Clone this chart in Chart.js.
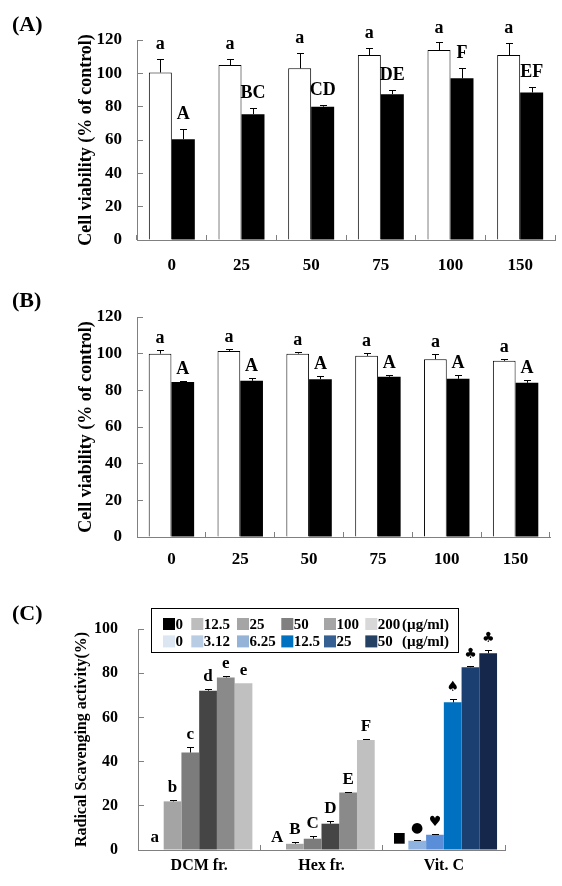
<!DOCTYPE html>
<html>
<head>
<meta charset="utf-8">
<script src="https://cdn.jsdelivr.net/npm/chart.js@4"></script>
<style>
    html, body { margin: 0; padding: 0; background: #fff; }
    #wrap { position: relative; width: 562px; height: 886px; }
    canvas { position: absolute; left: 0; }
</style>
</head>
<body>
<div id="wrap">
    <canvas id="panelA" width="562" height="285" style="top:0"></canvas>
    <canvas id="panelB" width="562" height="294" style="top:276px"></canvas>
    <canvas id="panelC" width="562" height="316" style="top:570px"></canvas>
</div>
<script>
// x axis of (A) and (B)
const doses = ['0', '25', '50', '75', '100', '150'];

// (A)
const aControl = [100.5, 105, 103, 111, 114, 111];
const aControlErr = [8, 3.5, 9.5, 4, 4.5, 7.3];
const aControlLetters = ['a', 'a', 'a', 'a', 'a', 'a'];
const aTreated = [60.5, 75.5, 80, 87.5, 97, 88.5];
const aTreatedErr = [6, 3.5, 1.2, 2.5, 6.4, 3.4];
const aTreatedLetters = ['A', 'BC', 'CD', 'DE', 'F', 'EF'];

// (B)
const bControl = [100, 101.5, 100, 98.8, 97, 96.1];
const bControlErr = [2, 1.3, 1, 1.6, 2.8, 0.9];
const bControlLetters = ['a', 'a', 'a', 'a', 'a', 'a'];
const bTreated = [84.6, 85.2, 86.1, 87.4, 86.3, 84.1];
const bTreatedErr = [0.6, 1.5, 1.7, 1, 2, 1.6];
const bTreatedLetters = ['A', 'A', 'A', 'A', 'A', 'A'];

// (C) one series per dose step, values for DCM fr., Hex fr., Vit. C
const fractions = ['DCM fr.', 'Hex fr.', 'Vit. C'];
const sampleDoses = ['0', '12.5', '25', '50', '100', '200'];
const vitcDoses = ['0', '3.12', '6.25', '12.5', '25', '50'];
const doseUnit = '(\u00b5g/ml)';
const scav = [
    [0, 0, 0],
    [22, 2.8, 4.2],
    [44.1, 5.1, 6.9],
    [72.1, 11.9, 66.8],
    [78.1, 26, 82.7],
    [75.4, 49.8, 89]
];
const scavErr = [
    [0, 0, 0],
    [0.7, 0.8, 0.3],
    [2.3, 1.2, 0.3],
    [0.9, 1.1, 1.7],
    [0.8, 0.3, 0.4],
    [0, 0.4, 1.3]
];
const dcmLetters = ['a', 'b', 'c', 'd', 'e', 'e'];
const hexLetters = ['A', 'B', 'C', 'D', 'E', 'F'];
const vitcLetters = ['\u25a0', '\u25cf', '\u2665', '\u2660', '\u2663', '\u2663'];

const grayBars = ['#000000', '#a4a4a4', '#7c7c7c', '#454545', '#8a8a8a', '#c0c0c0'];
const blueBars = ['#dce6f2', '#8fb3e0', '#5b8ed8', '#0070c0', '#1c3f72', '#15284b'];
const grayKey = ['#000000', '#bdbdbd', '#a5a5a5', '#808080', '#a5a5a5', '#d8d8d8'];
const blueKey = ['#dce6f2', '#b8cce4', '#95b3d7', '#0070c0', '#366092', '#244062'];

const serif = "'Liberation Serif', 'Times New Roman', serif";
Chart.defaults.font.family = serif;
Chart.defaults.color = '#000';

const errorBars = {
    id: 'errorBars',
    afterDatasetsDraw(chart, args, opts) {
        const ctx = chart.ctx;
        const y = chart.scales.y;
        chart.data.datasets.forEach((ds, di) => {
            if (!ds.errors) return;
            chart.getDatasetMeta(di).data.forEach((bar, i) => {
                const e = ds.errors[i];
                if (!e) return;
                const x = Math.round(bar.x) + 0.5;
                const top = Math.round(y.getPixelForValue(ds.data[i] + e)) + 0.5;
                ctx.save();
                ctx.strokeStyle = '#000';
                ctx.lineWidth = 1;
                ctx.beginPath();
                ctx.moveTo(x, bar.y);
                ctx.lineTo(x, top);
                ctx.moveTo(x - opts.cap, top);
                ctx.lineTo(x + opts.cap, top);
                ctx.stroke();
                ctx.restore();
            });
        });
    }
};

const barLetters = {
    id: 'barLetters',
    afterDatasetsDraw(chart, args, opts) {
        const ctx = chart.ctx;
        const y = chart.scales.y;
        chart.data.datasets.forEach((ds, di) => {
            if (!ds.letters) return;
            chart.getDatasetMeta(di).data.forEach((bar, i) => {
                const txt = ds.letters[i];
                const e = ds.errors ? ds.errors[i] || 0 : 0;
                const top = y.getPixelForValue(ds.data[i] + e);
                const symbol = /[^\x00-\x7f]/.test(txt);
                ctx.save();
                ctx.font = symbol ? `${opts.symbolSize}px 'DejaVu Sans'` : `bold ${opts.size}px ${serif}`;
                ctx.textAlign = 'center';
                ctx.textBaseline = 'alphabetic';
                ctx.fillStyle = '#000';
                ctx.fillText(txt, bar.x, top - opts.gap);
                ctx.restore();
            });
        });
    }
};

const doseKey = {
    id: 'doseKey',
    afterDraw(chart, args, o) {
        const ctx = chart.ctx;
        const a = chart.chartArea;
        const x0 = Math.round(a.left + o.dx), y0 = Math.round(a.top + o.dy);
        ctx.save();
        ctx.fillStyle = '#fff';
        ctx.fillRect(x0, y0, o.w, o.h);
        ctx.strokeStyle = '#000';
        ctx.lineWidth = 1;
        ctx.strokeRect(x0 + 0.5, y0 + 0.5, o.w, o.h);
        ctx.font = `bold 15px ${serif}`;
        ctx.textBaseline = 'middle';
        ctx.textAlign = 'left';
        o.rows.forEach((row, r) => {
            const cy = y0 + o.rowY[r];
            row.labels.forEach((lab, i) => {
                const sx = x0 + o.colX[i];
                ctx.fillStyle = row.colors[i];
                ctx.fillRect(sx, cy - 6, 12, 12);
                ctx.fillStyle = '#000';
                ctx.fillText(lab, sx + 12.5, cy + 1);
            });
            ctx.fillText(doseUnit, x0 + o.unitX, cy + 1);
        });
        ctx.restore();
    }
};

function yScale(max, size, title, titleSize, titlePad, tickPad, width) {
    return {
        min: 0,
        max: max,
        ticks: {stepSize: 20, padding: tickPad, font: {size: size, weight: 'bold'}},
        grid: {drawTicks: false, color: '#808080', lineWidth: 1},
        border: {color: '#808080', dash: [5, 3000]},
        title: {
            display: true,
            text: title,
            font: {size: titleSize, weight: 'bold'},
            padding: {top: titlePad, bottom: 0}
        },
        afterFit: (scale) => { scale.width = width; }
    };
}

function xScale(size, tickPad, height) {
    return {
        ticks: {padding: tickPad, font: {size: size, weight: 'bold'}, maxRotation: 0, autoSkip: false},
        grid: {drawTicks: false, color: '#808080', lineWidth: 1, offset: true},
        border: {
            color: '#808080',
            dash: (ctx) => {
                const a = ctx.chart.chartArea;
                if (!a) return [];
                return [0, a.bottom - a.top - 5, 5, 3000];
            }
        },
        afterFit: (scale) => { scale.height = height; }
    };
}

function createCellChart(id, letter, box, control, controlErr, controlLetters, treated, treatedErr, treatedLetters) {
    new Chart(document.getElementById(id), {
        type: 'bar',
        data: {
            labels: doses,
            datasets: [{
                label: 'control',
                data: control,
                errors: controlErr,
                letters: controlLetters,
                backgroundColor: '#fff',
                borderColor: '#000',
                borderWidth: 1
            }, {
                label: 'treated',
                data: treated,
                errors: treatedErr,
                letters: treatedLetters,
                backgroundColor: '#000',
                borderColor: '#000',
                borderWidth: 0
            }]
        },
        options: {
            responsive: false,
            animation: false,
            devicePixelRatio: 1,
            categoryPercentage: 0.66,
            barPercentage: 1,
            layout: {padding: {left: 12, right: box.right, top: 0, bottom: 0}},
            scales: {
                x: xScale(17, box.xPad, box.xHeight),
                y: yScale(120, 17, 'Cell viability (% of control)', 18, 64, 15, 125)
            },
            plugins: {
                legend: {display: false},
                tooltip: {enabled: false},
                title: {
                    display: true,
                    text: letter,
                    align: 'start',
                    font: {size: 22, weight: 'bold'},
                    padding: {top: 12, bottom: box.titleBottom}
                },
                errorBars: {cap: 3.5},
                barLetters: {size: 18, gap: box.gap, symbolSize: 13}
            }
        },
        plugins: [errorBars, barLetters]
    });
}

function createScavChart() {
    const datasets = scav.map((vals, i) => ({
        label: sampleDoses[i] + ' / ' + vitcDoses[i],
        data: vals,
        errors: scavErr[i],
        letters: [dcmLetters[i], hexLetters[i], vitcLetters[i]],
        backgroundColor: [grayBars[i], grayBars[i], blueBars[i]],
        borderWidth: 0
    }));
    new Chart(document.getElementById('panelC'), {
        type: 'bar',
        data: {labels: fractions, datasets: datasets},
        options: {
            responsive: false,
            animation: false,
            devicePixelRatio: 1,
            categoryPercentage: 0.87,
            barPercentage: 1,
            layout: {padding: {left: 12, right: 57, top: 0, bottom: 0}},
            scales: {
                x: xScale(16, 6.5, 36),
                y: yScale(100, 16, 'Radical Scavenging activity(%)', 16, 60, 20, 126)
            },
            plugins: {
                legend: {display: false},
                tooltip: {enabled: false},
                title: {
                    display: true,
                    text: '(C)',
                    align: 'start',
                    font: {size: 22, weight: 'bold'},
                    padding: {top: 31, bottom: 1.6}
                },
                errorBars: {cap: 3.5},
                barLetters: {size: 17, gap: 8, symbolSize: 14},
                doseKey: {
                    dx: 13, dy: -21, w: 307, h: 44,
                    rowY: [16, 33.4],
                    colX: [12, 40.3, 86, 130.3, 173, 214.3],
                    unitX: 251,
                    rows: [
                        {labels: sampleDoses, colors: grayKey},
                        {labels: vitcDoses, colors: blueKey}
                    ]
                }
            }
        },
        plugins: [errorBars, barLetters, doseKey]
    });
}

createCellChart('panelA', '(A)', {right: 7, xPad: 15.8, xHeight: 45, titleBottom: 1.6, gap: 10},
    aControl, aControlErr, aControlLetters, aTreated, aTreatedErr, aTreatedLetters);
createCellChart('panelB', '(B)', {right: 12, xPad: 12.3, xHeight: 33, titleBottom: 2.6, gap: 7},
    bControl, bControlErr, bControlLetters, bTreated, bTreatedErr, bTreatedLetters);
createScavChart();
</script>
</body>
</html>
